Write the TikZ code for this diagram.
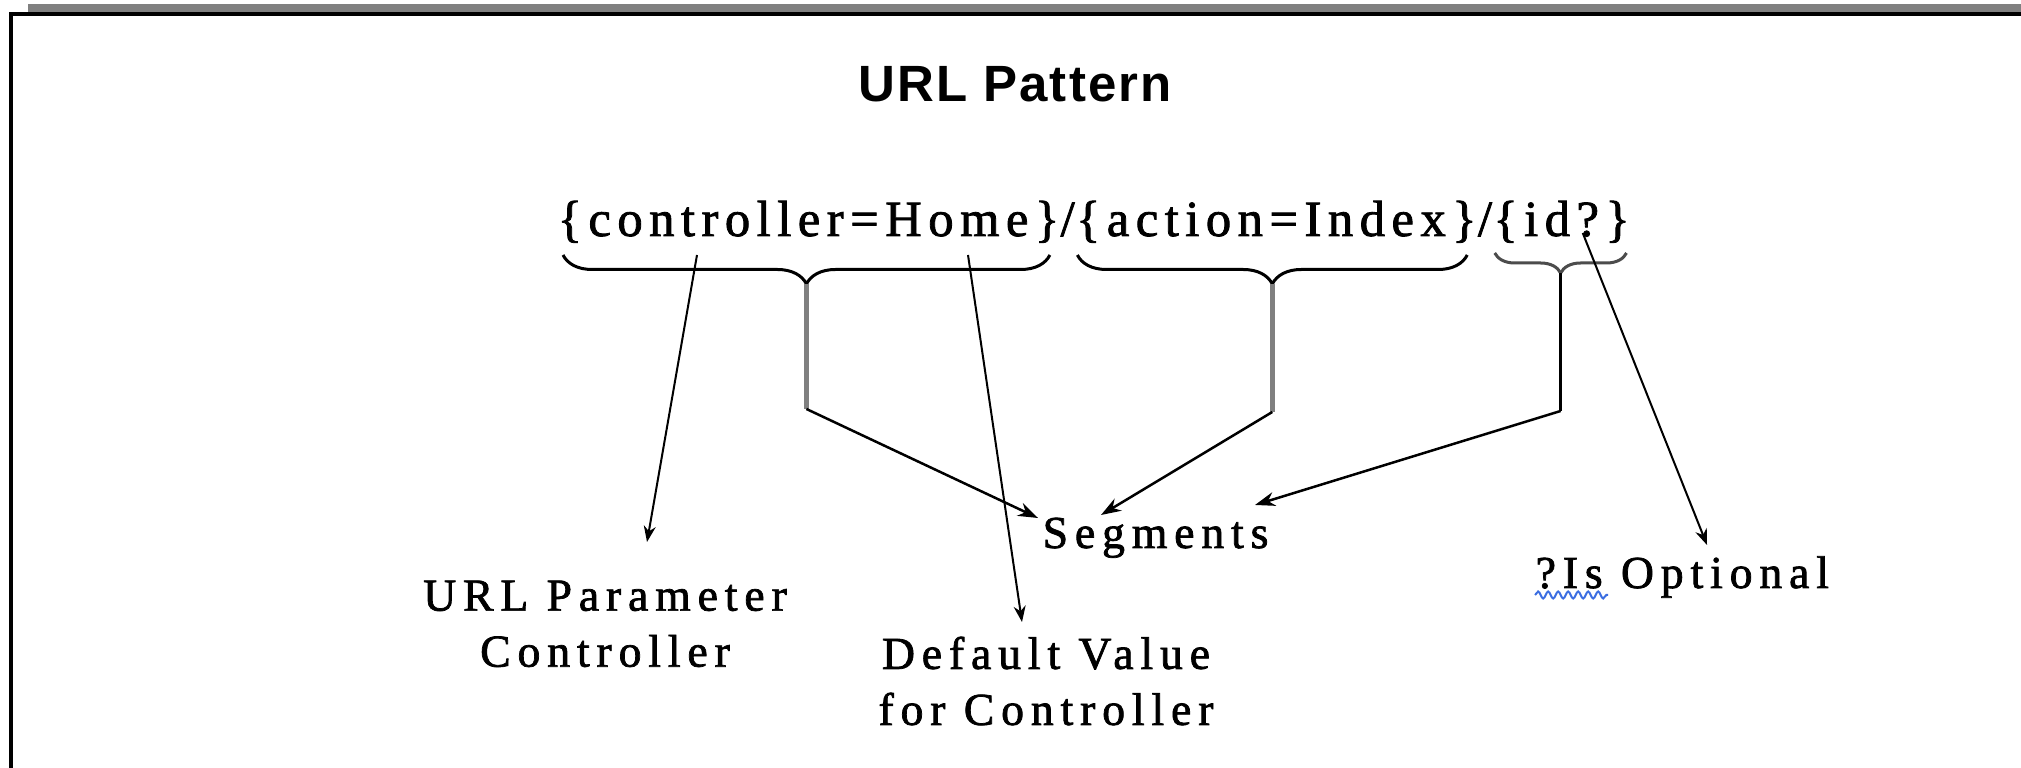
\documentclass[tikz,border=0pt]{standalone}
\usepackage{fontspec}
\setmainfont{Liberation Serif}
\newfontfamily\ttlfont{Liberation Sans}[LetterSpace=4]
\newfontfamily\patfont{Liberation Serif}[LetterSpace=12.8, FakeBold=1.6]
\newfontfamily\lblfont{Liberation Serif}[LetterSpace=15, FakeBold=1.6]
\usetikzlibrary{calc,arrows.meta,decorations.pathreplacing,decorations.pathmorphing}

\tikzset{
  ttl/.style={inner sep=0pt, font=\ttlfont\bfseries\fontsize{14.5}{17}\selectfont},
  pat/.style={inner sep=0pt, anchor=base west, font=\patfont\fontsize{14.4}{17}\selectfont},
  lbl/.style={inner sep=0pt, align=center, font=\lblfont\fontsize{13}{15.93}\selectfont},
  brc/.style={draw=black, line width=0.03cm, decorate,
              decoration={brace, mirror, amplitude=0.29cm}},
  brcsmall/.style={draw=black!70, line width=0.03cm, decorate,
              decoration={brace, mirror, amplitude=0.2cm}},
  stem/.style={draw=black!50, line width=0.05cm},
  stemdark/.style={draw=black, line width=0.03cm},
  segarr/.style={draw=black, line width=0.025cm,
              -{Stealth[length=0.2cm,width=0.14cm]}},
  thin/.style={draw=black, line width=0.02cm,
              -{Stealth[length=0.16cm,width=0.12cm]}},
  squiggle/.style={draw={rgb,255:red,60;green,110;blue,225}, line width=0.02cm,
              decorate, decoration={snake, amplitude=0.035cm, segment length=0.1cm}}
}

\begin{document}
\begin{tikzpicture}[x=0.01cm, y={(0cm,-0.01cm)}]
  \useasboundingbox (0,0) rectangle (2021,768);
  \fill[white] (0,0) rectangle (2021,768);

  % window frame: grey bar, black top edge, black left edge
  \fill[black!50] (28,4) rectangle (2021,12);
  \fill[black] (9,12) rectangle (2021,16);
  \fill[black] (9,12) rectangle (13,768);

  % title
  \node[ttl, anchor=base] (title) at (1015,102) {URL Pattern};

  % the route template, one node per part
  \node[pat] (p1) at (557,236) {\{controller=Home\}};
  \node[pat] (p2) at (p1.base east) {/};
  \node[pat] (p3) at (p2.base east) {\{action=Index\}};
  \node[pat] (p4) at (p3.base east) {/};
  \node[pat] (p5) at (p4.base east) {\{id?\}};

  % labels
  \node[lbl, anchor=north] (uparam) at (605,580) {URL Parameter\\Controller};
  \node[lbl, anchor=north] (defval) at (1046,636) {Default Value\\for Controller};
  \node[lbl, anchor=base west] (seg) at (1042,548) {Segments};
  \node[lbl, anchor=base west] (opt) at (1535,588) {?Is Optional};

  % spell-check underline under "?Is"
  \draw[squiggle] ($(opt.base west)+(0,7)$) -- ($(opt.base west)+(73,7)$);

  % braces under each segment
  \coordinate (b1l) at ($(p1.base west)+(6,19)$);
  \coordinate (b1r) at ($(p1.base east)+(-10,19)$);
  \coordinate (b2l) at ($(p3.base west)+(2,19)$);
  \coordinate (b2r) at ($(p3.base east)+(-10,19)$);
  \coordinate (b3l) at ($(p5.base west)+(2,17)$);
  \coordinate (b3r) at ($(p5.base east)+(-4,17)$);
  \draw[brc] (b1l) -- (b1r);
  \draw[brc] (b2l) -- (b2r);
  \draw[brcsmall] (b3l) -- (b3r);

  % brace tips and the knees of the segment connectors
  \coordinate (b1) at ($(b1l)!0.5!(b1r)+(0,29)$);
  \coordinate (b2) at ($(b2l)!0.5!(b2r)+(0,29)$);
  \coordinate (b3) at ($(b3l)!0.5!(b3r)+(0,20)$);
  \coordinate (k1) at ($(b1)+(0,125)$);
  \coordinate (k2) at ($(b2)+(0,128)$);
  \coordinate (k3) at ($(b3)+(0,138)$);

  % every segment points to "Segments"
  \draw[stem] (b1) -- (k1);
  \draw[stem] (b2) -- (k2);
  \draw[stemdark] (b3) -- (k3);
  \draw[segarr] (k1) -- ($(seg.base west)+(-4,-30)$);
  \draw[segarr] (k2) -- ($(seg.base west)+(59,-33)$);
  \draw[segarr] (k3) -- ($(seg.base west)+(213,-43)$);

  % callouts
  \draw[thin] ($(p1.base west)+(140,19)$) -- ($(uparam.north)+(42,-38)$);
  \draw[thin] ($(p1.base west)+(411,19)$) -- ($(defval.north)+(-24,-14)$);
  \draw[thin] ($(p5.base west)+(90,-3)$) -- ($(opt.base west)+(172,-43)$);
\end{tikzpicture}
\end{document}
